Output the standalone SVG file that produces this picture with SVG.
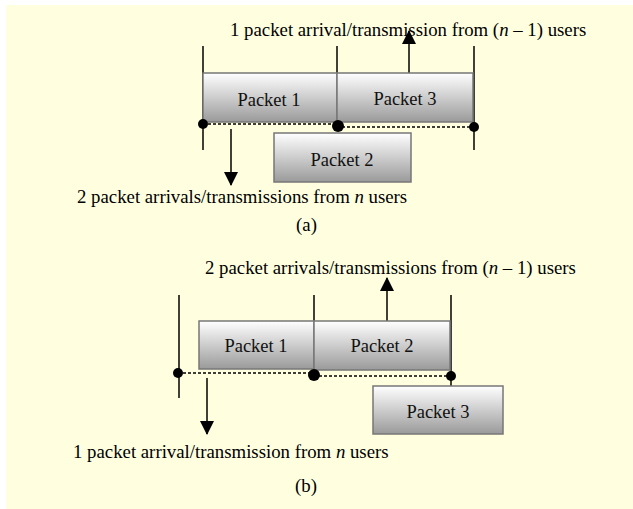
<svg xmlns="http://www.w3.org/2000/svg" width="633" height="509" viewBox="0 0 633 509">
<defs>
<linearGradient id="g" x1="0" y1="0" x2="0" y2="1">
<stop offset="0" stop-color="#ffffff"/>
<stop offset="1" stop-color="#9a9a9a"/>
</linearGradient>
<marker id="ah2" markerWidth="14" markerHeight="14" refX="13" refY="7" orient="auto" markerUnits="userSpaceOnUse">
<path d="M0,0 L14,7 L0,14 Z" fill="#000"/>
</marker>
</defs>
<style>
.bg{fill:#ffffe0}
.box{fill:url(#g);stroke:#777;stroke-width:1.5}
.lbl{font-family:"Liberation Serif","Times New Roman",serif;font-size:18.5px;fill:#111;text-anchor:middle}
.txt{font-family:"Liberation Serif","Times New Roman",serif;font-size:18.8px;fill:#000}
.v{stroke:#000;stroke-width:1.5}
.d{stroke:#000;stroke-width:1.5;stroke-dasharray:3,2;fill:none}
.arr{stroke:#000;stroke-width:1.5;marker-end:url(#ah2)}
.dot{fill:#000}
</style>
<rect class="bg" x="6" y="5" width="627" height="504"/>

<g id="connectors">
<line class="v" x1="203" y1="46" x2="203" y2="150"/>
<line class="v" x1="337" y1="46" x2="337" y2="126"/>
<line class="v" x1="474" y1="46" x2="474" y2="150"/>
<line class="d" x1="203" y1="124" x2="337" y2="124"/>
<line class="d" x1="337" y1="127" x2="474" y2="127"/>
<line class="arr" x1="231" y1="129" x2="231" y2="185"/>
<line class="arr" x1="409" y1="73" x2="409" y2="31"/>

<line class="v" x1="179" y1="295" x2="179" y2="398"/>
<line class="v" x1="314" y1="295" x2="314" y2="375"/>
<line class="v" x1="451" y1="295" x2="451" y2="386"/>
<line class="d" x1="178" y1="373" x2="314" y2="373"/>
<line class="d" x1="314" y1="376" x2="451" y2="376"/>
<line class="arr" x1="207" y1="378" x2="207" y2="434"/>
<line class="arr" x1="387" y1="321" x2="387" y2="278"/>
</g>

<g id="a-packet1"><rect class="box" x="203" y="73" width="134" height="49"/><text class="lbl" x="269" y="106">Packet 1</text></g>
<g id="a-packet3"><rect class="box" x="337" y="73" width="136" height="49"/><text class="lbl" x="405" y="105">Packet 3</text></g>
<g id="a-packet2"><rect class="box" x="274" y="133" width="137" height="49"/><text class="lbl" x="342" y="166">Packet 2</text></g>

<g id="a-dots">
<circle class="dot" cx="203" cy="124" r="5"/>
<circle class="dot" cx="338" cy="126" r="6"/>
<circle class="dot" cx="474" cy="127" r="5"/>
</g>

<g id="b-packet1"><rect class="box" x="199" y="321" width="115" height="48"/><text class="lbl" x="256" y="352">Packet 1</text></g>
<g id="b-packet2"><rect class="box" x="314" y="321" width="136" height="49"/><text class="lbl" x="382" y="352">Packet 2</text></g>
<g id="b-packet3"><rect class="box" x="373" y="386" width="130" height="48"/><text class="lbl" x="438" y="418">Packet 3</text></g>

<g id="b-dots">
<circle class="dot" cx="178" cy="373" r="5"/>
<circle class="dot" cx="314" cy="375" r="6"/>
<circle class="dot" cx="451" cy="376" r="5"/>
</g>

<g id="texts">
<text class="txt" x="230" y="36">1 packet arrival/transmission from (<tspan font-style="italic">n</tspan> – 1) users</text>
<text class="txt" x="77" y="203">2 packet arrivals/transmissions from <tspan font-style="italic">n</tspan> users</text>
<text class="txt" x="306.5" y="231" text-anchor="middle">(a)</text>
<text class="txt" x="205" y="274">2 packet arrivals/transmissions from (<tspan font-style="italic">n</tspan> – 1) users</text>
<text class="txt" x="73" y="458">1 packet arrival/transmission from <tspan font-style="italic">n</tspan> users</text>
<text class="txt" x="306" y="492" text-anchor="middle">(b)</text>
</g>
</svg>
